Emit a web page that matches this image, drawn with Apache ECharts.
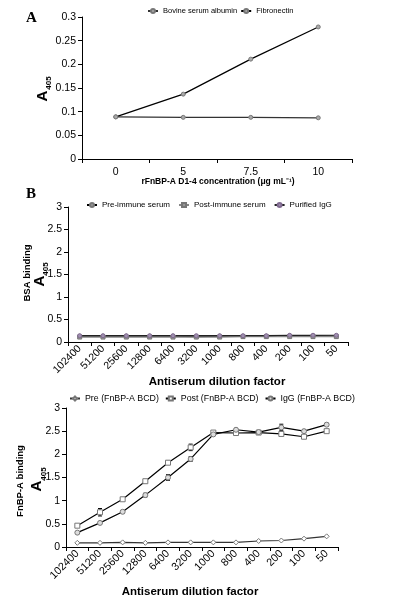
<!DOCTYPE html>
<html><head><meta charset="utf-8">
<script src="https://cdn.jsdelivr.net/npm/echarts@6/dist/echarts.min.js"></script>
<style>html,body{margin:0;padding:0;background:#fff}#c{width:394px;height:601px}</style>
</head><body><div id="c"></div>
<script>
// Panel A
const concCategories = ['0', '5', '7.5', '10'];
const bsaA = [0.089, 0.088, 0.088, 0.087];
const fibronectinA = [0.089, 0.137, 0.211, 0.279];
const yTicksA = [0, 0.05, 0.1, 0.15, 0.2, 0.25, 0.3];

// Panels B and C
const dilutions = ['102400','51200','25600','12800','6400','3200','1000','800','400','200','100','50'];
const preBSA  = [0.13,0.13,0.13,0.13,0.13,0.12,0.13,0.13,0.13,0.14,0.14,0.13];
const postBSA = [0.11,0.11,0.11,0.11,0.11,0.11,0.11,0.12,0.12,0.12,0.12,0.12];
const iggBSA  = [0.14,0.14,0.14,0.14,0.14,0.14,0.14,0.14,0.14,0.15,0.15,0.15];

const preFn  = [0.09,0.09,0.10,0.09,0.10,0.10,0.10,0.10,0.13,0.14,0.18,0.23];
const postFn = [0.46,0.75,1.03,1.42,1.82,2.15,2.47,2.46,2.47,2.44,2.38,2.50];
const iggFn  = [0.31,0.52,0.76,1.12,1.50,1.90,2.43,2.53,2.48,2.58,2.50,2.64];
const postFnErr = [0.02,0.08,0.02,0.03,0.04,0.07,0.02,0.03,0.03,0.03,0.02,0.03];
const iggFnErr  = [0.02,0.03,0.03,0.04,0.06,0.05,0.02,0.03,0.03,0.07,0.03,0.03];

const FONT = 'Liberation Sans';
const chart = echarts.init(document.getElementById('c'), null, {renderer:'canvas'});

function errSeries(name, xi, yi, vals, errs){
  return {
    name: name, type:'custom', xAxisIndex:xi, yAxisIndex:yi, z:1,
    data: vals.map((v,i)=>[i, v, errs[i]]),
    renderItem: function(params, api){
      const x = api.value(0), v = api.value(1), e = api.value(2);
      const top = api.coord([x, v+e]), bot = api.coord([x, v-e]);
      const w = 2;
      return {type:'group', children:[
        {type:'line', shape:{x1:top[0],y1:top[1],x2:bot[0],y2:bot[1]}, style:{stroke:'#000',lineWidth:1}},
        {type:'line', shape:{x1:top[0]-w,y1:top[1],x2:top[0]+w,y2:top[1]}, style:{stroke:'#000',lineWidth:1}},
        {type:'line', shape:{x1:bot[0]-w,y1:bot[1],x2:bot[0]+w,y2:bot[1]}, style:{stroke:'#000',lineWidth:1}}
      ]};
    }
  };
}

const axisLine = {show:true, lineStyle:{color:'#000', width:1}};
const axisTick = {show:true, inside:false, length:4, lineStyle:{color:'#000'}};
const lbl = {color:'#000', fontFamily:FONT, fontSize:10.5};

const option = {
  animation:false,
  textStyle:{fontFamily:FONT},
  grid:[
    {left:82, top:17, width:270, height:142},
    {left:68, top:207, width:280, height:135},
    {left:66, top:408, width:272, height:139}
  ],
  legend:[
    {left:147, top:7, itemWidth:10, itemHeight:5, itemGap:3, padding:0,
     textStyle:{fontSize:7.5, color:'#000', fontFamily:FONT},
     data:['Bovine serum albumin','Fibronectin']},
    {left:86, top:201, itemWidth:10, itemHeight:5, itemGap:8, padding:0,
     textStyle:{fontSize:8, color:'#000', fontFamily:FONT},
     data:['Pre-immune serum','Post-immune serum','Purified IgG']},
    {left:69, top:394, itemWidth:10, itemHeight:5, itemGap:6, padding:0,
     textStyle:{fontSize:8.8, color:'#000', fontFamily:FONT},
     data:['Pre (FnBP-A BCD)','Post (FnBP-A BCD)','IgG (FnBP-A BCD)']}
  ],
  xAxis:[
    {type:'category', gridIndex:0, data:concCategories, boundaryGap:true,
     axisLine:axisLine, axisTick:axisTick, axisLabel:Object.assign({margin:8}, lbl), splitLine:{show:false}},
    {type:'category', gridIndex:1, data:dilutions, boundaryGap:true,
     axisLine:axisLine, axisTick:axisTick, axisLabel:Object.assign({rotate:45, margin:5, interval:0}, lbl, {fontSize:10.5}), splitLine:{show:false}},
    {type:'category', gridIndex:2, data:dilutions, boundaryGap:true,
     axisLine:axisLine, axisTick:axisTick, axisLabel:Object.assign({rotate:45, margin:5, interval:0}, lbl, {fontSize:10.8}), splitLine:{show:false}}
  ],
  yAxis:[
    {type:'value', gridIndex:0, min:0, max:0.3, interval:0.05,
     axisLine:axisLine, axisTick:axisTick, splitLine:{show:false},
     axisLabel:Object.assign({margin:6, formatter:v=>String(+v.toFixed(2))}, lbl)},
    {type:'value', gridIndex:1, min:0, max:3, interval:0.5,
     axisLine:axisLine, axisTick:axisTick, splitLine:{show:false},
     axisLabel:Object.assign({margin:6}, lbl)},
    {type:'value', gridIndex:2, min:0, max:3, interval:0.5,
     axisLine:axisLine, axisTick:axisTick, splitLine:{show:false},
     axisLabel:Object.assign({margin:6}, lbl)}
  ],
  series:[
    {name:'Bovine serum albumin', type:'line', xAxisIndex:0, yAxisIndex:0, data:bsaA,
     symbol:'circle', symbolSize:4, lineStyle:{color:'#333', width:1.2},
     itemStyle:{color:'#aaa', borderColor:'#777', borderWidth:1}, color:'#777', z:3},
    {name:'Fibronectin', type:'line', xAxisIndex:0, yAxisIndex:0, data:fibronectinA,
     symbol:'circle', symbolSize:4, lineStyle:{color:'#000', width:1.2},
     itemStyle:{color:'#aaa', borderColor:'#777', borderWidth:1}, color:'#777', z:3},

    {name:'Pre-immune serum', type:'line', xAxisIndex:1, yAxisIndex:1, data:preBSA,
     symbol:'circle', symbolSize:4, lineStyle:{color:'#000', width:1.2},
     itemStyle:{color:'#999', borderColor:'#777', borderWidth:1}, color:'#777', z:3},
    {name:'Post-immune serum', type:'line', xAxisIndex:1, yAxisIndex:1, data:postBSA,
     symbol:'rect', symbolSize:4, lineStyle:{color:'#888', width:1.5},
     itemStyle:{color:'#999', borderColor:'#777', borderWidth:1}, color:'#777', z:3},
    {name:'Purified IgG', type:'line', xAxisIndex:1, yAxisIndex:1, data:iggBSA,
     symbol:'circle', symbolSize:4, lineStyle:{color:'#222', width:1.2},
     itemStyle:{color:'#a090b0', borderColor:'#806a90', borderWidth:1}, color:'#806a90', z:3},

    errSeries('postErr', 2, 2, postFn, postFnErr),
    errSeries('iggErr', 2, 2, iggFn, iggFnErr),
    {name:'Pre (FnBP-A BCD)', type:'line', xAxisIndex:2, yAxisIndex:2, data:preFn,
     symbol:'diamond', symbolSize:5, lineStyle:{color:'#333', width:1.2},
     itemStyle:{color:'#fff', borderColor:'#777', borderWidth:1}, color:'#777', z:3},
    {name:'Post (FnBP-A BCD)', type:'line', xAxisIndex:2, yAxisIndex:2, data:postFn,
     symbol:'rect', symbolSize:5, lineStyle:{color:'#000', width:1.2},
     itemStyle:{color:'#fff', borderColor:'#777', borderWidth:1}, color:'#777', z:3},
    {name:'IgG (FnBP-A BCD)', type:'line', xAxisIndex:2, yAxisIndex:2, data:iggFn,
     symbol:'circle', symbolSize:5, lineStyle:{color:'#000', width:1.2},
     itemStyle:{color:'#ddd', borderColor:'#777', borderWidth:1}, color:'#777', z:3}
  ],
  graphic:[
    {type:'text', left:26, top:11, style:{text:'A', font:'bold 15px "Liberation Serif"', fill:'#000'}},
    {type:'text', left:26, top:187, style:{text:'B', font:'bold 15px "Liberation Serif"', fill:'#000'}},

    {type:'text', x:43, y:96, rotation:Math.PI/2, style:{text:'A', font:'bold 15px "Liberation Sans"', fill:'#000', align:'center', verticalAlign:'middle'}},
    {type:'text', x:49, y:83, rotation:Math.PI/2, style:{text:'405', font:'bold 8px "Liberation Sans"', fill:'#000', align:'center', verticalAlign:'middle'}},
    {type:'text', x:218, y:182, style:{text:'rFnBP-A D1-4 concentration (\u03bcg mL\u207b\u00b9)', font:'bold 8.5px "Liberation Sans"', fill:'#000', align:'center', verticalAlign:'middle'}},

    {type:'text', x:27, y:273, rotation:Math.PI/2, style:{text:'BSA binding', font:'bold 9.5px "Liberation Sans"', fill:'#000', align:'center', verticalAlign:'middle'}},
    {type:'text', x:40, y:281, rotation:Math.PI/2, style:{text:'A', font:'bold 15px "Liberation Sans"', fill:'#000', align:'center', verticalAlign:'middle'}},
    {type:'text', x:46, y:269, rotation:Math.PI/2, style:{text:'405', font:'bold 8px "Liberation Sans"', fill:'#000', align:'center', verticalAlign:'middle'}},
    {type:'text', x:217, y:382, style:{text:'Antiserum dilution factor', font:'bold 11.5px "Liberation Sans"', fill:'#000', align:'center', verticalAlign:'middle'}},

    {type:'text', x:20, y:481, rotation:Math.PI/2, style:{text:'FnBP-A binding', font:'bold 9.5px "Liberation Sans"', fill:'#000', align:'center', verticalAlign:'middle'}},
    {type:'text', x:37, y:486, rotation:Math.PI/2, style:{text:'A', font:'bold 15px "Liberation Sans"', fill:'#000', align:'center', verticalAlign:'middle'}},
    {type:'text', x:44, y:474, rotation:Math.PI/2, style:{text:'405', font:'bold 8px "Liberation Sans"', fill:'#000', align:'center', verticalAlign:'middle'}},
    {type:'text', x:190, y:592, style:{text:'Antiserum dilution factor', font:'bold 11.5px "Liberation Sans"', fill:'#000', align:'center', verticalAlign:'middle'}}
  ]
};
chart.setOption(option);
</script>
</body></html>
